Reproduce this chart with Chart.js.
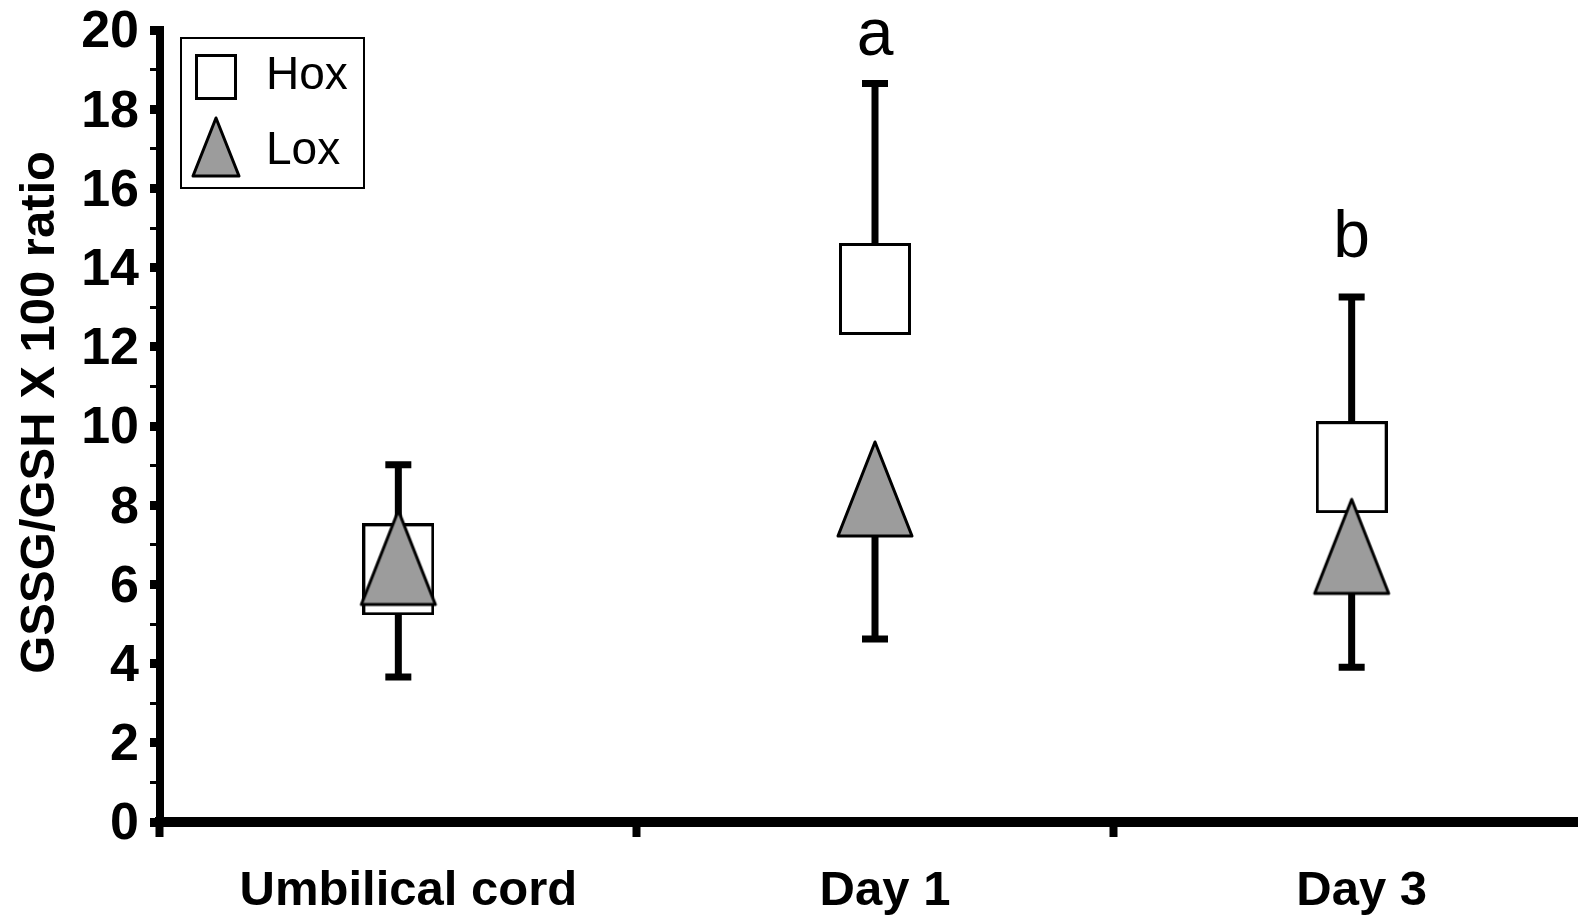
<!DOCTYPE html>
<html>
<head>
<meta charset="utf-8">
<title>GSSG/GSH ratio</title>
<script src="https://cdn.jsdelivr.net/npm/chart.js@4.4.0/dist/chart.umd.min.js"></script>
<style>
  html, body { margin: 0; padding: 0; background: #fff; overflow: hidden; width: 1578px; height: 922px; }
  #wrap { position: absolute; left: 0; top: 0; width: 1597px; height: 922px; }
</style>
</head>
<body>
<div id="wrap"><canvas id="chart" width="1597" height="922" style="width:1597px;height:922px"></canvas></div>
<script>
// Sampling points
const categories = ['Umbilical cord', 'Day 1', 'Day 3'];

// Hox group: mean and upper deviation
const hoxMean = [6.38, 13.46, 8.96];
const hoxSD = [2.64, 5.19, 4.30];

// Lox group: mean and lower deviation
const loxMean = [6.68, 8.41, 6.96];
const loxSD = [3.02, 3.79, 3.05];

// Significance letters above the Hox whiskers
const groupLetters = ['', 'a', 'b'];

// Labels for the even y ticks
const yTickLabels = ['0', '2', '4', '6', '8', '10', '12', '14', '16', '18', '20'];

const SANS = '"Liberation Sans", Arial, sans-serif';

// Marker images: open rectangle for Hox, grey triangle for Lox
function boxMarker(w, h, lw) {
  const c = document.createElement('canvas');
  c.width = w; c.height = h;
  const g = c.getContext('2d');
  g.fillStyle = '#fff';
  g.fillRect(lw / 2, lw / 2, w - lw, h - lw);
  g.lineWidth = lw;
  g.strokeStyle = '#000';
  g.strokeRect(lw / 2, lw / 2, w - lw, h - lw);
  return c;
}
function triMarker(w, h, lw) {
  const m = 3;
  const c = document.createElement('canvas');
  c.width = w + 2 * m; c.height = h + 2 * m;
  const g = c.getContext('2d');
  g.beginPath();
  g.moveTo(m + w / 2, m);
  g.lineTo(m + w, m + h);
  g.lineTo(m, m + h);
  g.closePath();
  g.fillStyle = '#9c9c9c';
  g.fill();
  g.lineJoin = 'round';
  g.lineWidth = lw;
  g.strokeStyle = '#000';
  g.stroke();
  return c;
}

const hoxPoint = boxMarker(72, 92, 3);
const loxPoint = triMarker(74, 94, 3);
const hoxKey = boxMarker(42, 46, 3);
const loxKey = triMarker(46, 58, 3);

// Whiskers: Hox upward, Lox downward, drawn beneath the markers
const errorBars = {
  id: 'errorBars',
  beforeDatasetsDraw(chart) {
    const { ctx } = chart;
    const y = chart.scales.y;
    chart.data.datasets.forEach((ds, di) => {
      const meta = chart.getDatasetMeta(di);
      meta.data.forEach((pt, i) => {
        const end = ds.data[i] + ds.errDir * ds.errors[i];
        const yEnd = y.getPixelForValue(end);
        ctx.save();
        ctx.strokeStyle = '#000';
        ctx.lineWidth = 7;
        ctx.beginPath();
        ctx.moveTo(pt.x, pt.y);
        ctx.lineTo(pt.x, yEnd);
        ctx.moveTo(pt.x - 13, yEnd);
        ctx.lineTo(pt.x + 13, yEnd);
        ctx.stroke();
        ctx.restore();
      });
    });
  }
};

// Letters above the Hox whisker caps, kept clear of the top edge
const letters = {
  id: 'letters',
  afterDatasetsDraw(chart) {
    const { ctx } = chart;
    const x = chart.scales.x, y = chart.scales.y;
    ctx.save();
    ctx.fillStyle = '#000';
    ctx.font = '66px ' + SANS;
    ctx.textAlign = 'center';
    ctx.textBaseline = 'alphabetic';
    groupLetters.forEach((t, i) => {
      if (!t) return;
      const top = y.getPixelForValue(hoxMean[i] + hoxSD[i]);
      ctx.fillText(t, x.getPixelForValue(i), Math.max(top - 40, 55));
    });
    ctx.restore();
  }
};

// Framed key in the upper left corner of the plot
const boxedLegend = {
  id: 'boxedLegend',
  afterDraw(chart) {
    const { ctx, chartArea } = chart;
    const L = chartArea.left + 21, T = chartArea.top + 8;
    ctx.save();
    ctx.fillStyle = '#fff';
    ctx.fillRect(L, T, 183, 150);
    ctx.strokeStyle = '#000';
    ctx.lineWidth = 2;
    ctx.strokeRect(L, T, 183, 150);
    const keys = [hoxKey, loxKey];
    ctx.fillStyle = '#000';
    ctx.font = '46px ' + SANS;
    ctx.textBaseline = 'middle';
    ctx.textAlign = 'left';
    chart.data.datasets.forEach((ds, i) => {
      const img = keys[i];
      const my = T + 39 + i * 70;
      ctx.drawImage(img, L + 35 - img.width / 2, my - img.height / 2);
      ctx.fillText(ds.label, L + 85, T + 38 + i * 75);
    });
    ctx.restore();
  }
};

new Chart(document.getElementById('chart'), {
  type: 'line',
  data: {
    labels: categories,
    datasets: [
      { label: 'Hox', data: hoxMean, errors: hoxSD, errDir: 1, showLine: false,
        pointStyle: hoxPoint, pointRadius: 6, order: 1 },
      { label: 'Lox', data: loxMean, errors: loxSD, errDir: -1, showLine: false,
        pointStyle: loxPoint, pointRadius: 6, order: 0 }
    ]
  },
  options: {
    responsive: false,
    animation: false,
    events: [],
    layout: { padding: { top: 30, right: 3, left: 0, bottom: 0 } },
    plugins: { legend: { display: false }, tooltip: { enabled: false } },
    scales: {
      x: {
        type: 'category',
        offset: true,
        grid: { offset: true, drawOnChartArea: false, drawTicks: true, tickLength: 15, tickWidth: 8, tickColor: '#000' },
        border: { display: true, color: '#000', width: 10 },
        ticks: { color: '#000', font: { family: SANS, size: 49, weight: 'bold', lineHeight: 1 },
                 padding: 30, labelOffset: 10, maxRotation: 0, autoSkip: false },
        afterFit: s => { s.height = 100; }
      },
      y: {
        min: 0, max: 20,
        grid: { drawOnChartArea: false, tickLength: 10, tickColor: '#000',
                tickWidth: c => (c.tick && c.tick.value % 2 === 0) ? 9 : 3 },
        border: { display: true, color: '#000', width: 8 },
        ticks: { stepSize: 1, autoSkip: false, padding: 11, labelOffset: 3, color: '#000',
                 font: { family: SANS, size: 52, weight: 'bold', lineHeight: 0.6 },
                 callback: v => (v % 2 === 0 ? yTickLabels[v / 2] : '') },
        title: { display: true, text: '  GSSG/GSH X 100 ratio', color: '#000',
                 font: { family: SANS, size: 49, weight: 'bold', lineHeight: 1 },
                 padding: { top: 16, bottom: 0 } },
        afterFit: s => { s.width = 160; }
      }
    }
  },
  plugins: [errorBars, letters, boxedLegend]
});
</script>
</body>
</html>
